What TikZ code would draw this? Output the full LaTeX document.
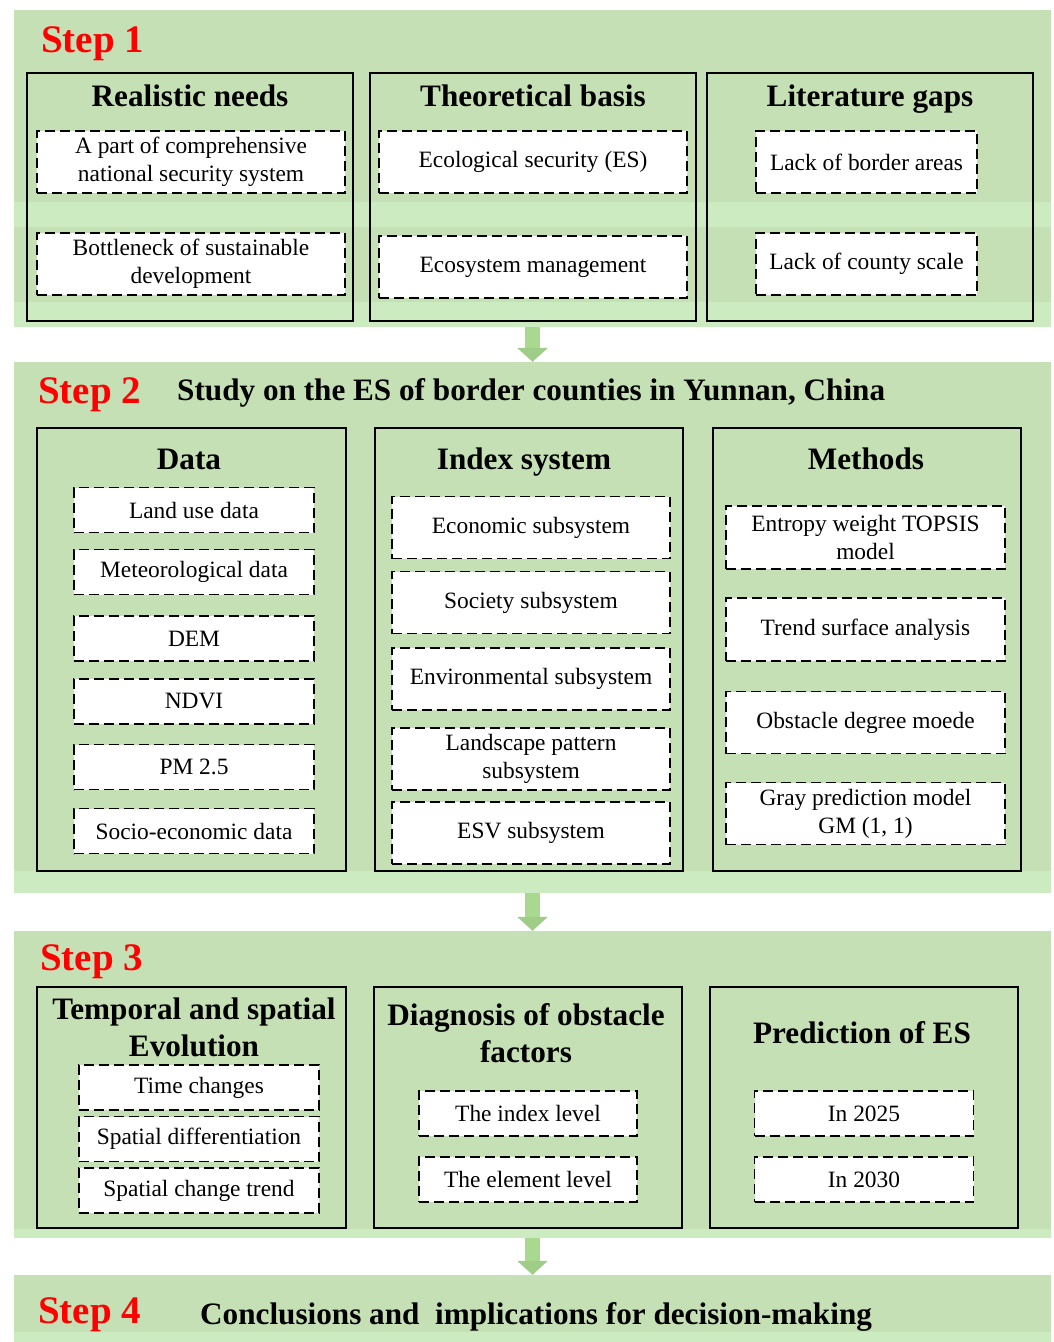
\documentclass[tikz,border=0pt]{standalone}
\usepackage{fontspec}
\setmainfont{Liberation Serif}
\usepackage{tikz}
\usetikzlibrary{arrows.meta}

\definecolor{bandgreen}{HTML}{C5E0B4}
\definecolor{stripgreen}{HTML}{CDEBC0}
\definecolor{arrowgreen}{HTML}{A9D98E}
\definecolor{headgreen}{HTML}{9FCC86}

\tikzset{
	band/.style={fill=bandgreen, minimum width=1037pt, inner sep=0pt},
	strip/.style={fill=stripgreen},
	panel/.style={draw, line width=1.8pt, inner sep=0pt},
	item/.style={draw, fill=white, line width=1.6pt, dash pattern=on 10pt off 5pt, align=center, inner sep=0pt, font=\fontsize{23.4}{28}\selectfont},
	heading/.style={font=\bfseries\fontsize{31.2}{37}\selectfont, align=center, inner sep=0pt},
	steplabel/.style={text=red, font=\bfseries\fontsize{39}{44}\selectfont, anchor=base west, inner sep=0pt},
	flow/.style={draw=arrowgreen, line width=15pt, -{Triangle[length=14pt, width=30pt, color=headgreen]}}
}

\begin{document}
\begin{tikzpicture}[x=1pt, y=-1pt]
	\useasboundingbox (0,0) rectangle (1054,1342);

	% bands
	\node[band, minimum height=317pt] (s1) at (532.5,168.5) {};
	\node[band, minimum height=531pt] (s2) at (532.5,627.5) {};
	\node[band, minimum height=307pt] (s3) at (532.5,1084.5) {};
	\node[band, minimum height=67pt] (s4) at (532.5,1308.5) {};
	\fill[strip] (14,202) rectangle (1051,227);
	\fill[strip] (14,302) rectangle (1051,327);
	\fill[strip] (14,871) rectangle (1051,893);
	\fill[strip] (14,1229) rectangle (1051,1238);
	\fill[strip] (14,1332) rectangle (1051,1342);

	\draw[flow] (s1.south) -- (s2.north);
	\draw[flow] (s2.south) -- (s3.north);
	\draw[flow] (s3.south) -- (s4.north);

	% step 1
	\node[steplabel] (step1) at (41,52) {Step 1};
	\node[panel, minimum width=326pt, minimum height=248pt] (needs) at (190,197) {};
	\node[panel, minimum width=326pt, minimum height=248pt] (basis) at (533,197) {};
	\node[panel, minimum width=326pt, minimum height=248pt] (gaps) at (870,197) {};
	\node[heading, anchor=base] (needst) at (190,106) {Realistic needs};
	\node[heading, anchor=base] (basist) at (533,106) {Theoretical basis};
	\node[heading, anchor=base] (gapst) at (870,106) {Literature gaps};
	\node[item, minimum width=308pt, minimum height=62pt] (needsa) at (191,162) {A part of comprehensive\\national security system};
	\node[item, minimum width=308pt, minimum height=62pt] (needsb) at (191,264) {Bottleneck of sustainable\\development};
	\node[item, minimum width=308pt, minimum height=62pt] (basisa) at (533,162) {Ecological security (ES)};
	\node[item, minimum width=308pt, minimum height=62pt] (basisb) at (533,267) {Ecosystem management};
	\node[item, minimum width=221pt, minimum height=62pt] (gapsa) at (866.5,162) {Lack of border areas};
	\node[item, minimum width=221pt, minimum height=62pt] (gapsb) at (866.5,264) {Lack of county scale};

	% step 2
	\node[steplabel] (step2) at (38,403) {Step 2};
	\node[heading, anchor=base west] (study) at (177,400) {Study on the ES of border counties in Yunnan, China};
	\node[panel, minimum width=309pt, minimum height=443pt] (data) at (191.5,649.5) {};
	\node[panel, minimum width=308pt, minimum height=443pt] (index) at (529,649.5) {};
	\node[panel, minimum width=308pt, minimum height=443pt] (methods) at (867,649.5) {};
	\node[heading, anchor=base] (datat) at (189,469) {Data};
	\node[heading, anchor=base] (indext) at (524,469) {Index system};
	\node[heading, anchor=base] (methodst) at (866,469) {Methods};
	\node[item, minimum width=240pt, minimum height=45pt] (landuse) at (194,510) {Land use data};
	\node[item, minimum width=240pt, minimum height=45pt] (meteo) at (194,572) {Meteorological data};
	\node[item, minimum width=240pt, minimum height=45pt] (dem) at (194,638.5) {DEM};
	\node[item, minimum width=240pt, minimum height=45pt] (ndvi) at (194,701.5) {NDVI};
	\node[item, minimum width=240pt, minimum height=45pt] (pm) at (194,767) {PM 2.5};
	\node[item, minimum width=240pt, minimum height=45pt] (socio) at (194,831) {Socio-economic data};
	\node[item, minimum width=278pt, minimum height=62pt] (econ) at (531,527.5) {Economic subsystem};
	\node[item, minimum width=278pt, minimum height=62pt] (soc) at (531,602.5) {Society subsystem};
	\node[item, minimum width=278pt, minimum height=62pt] (env) at (531,679) {Environmental subsystem};
	\node[item, minimum width=278pt, minimum height=62pt] (land) at (531,759) {Landscape pattern\\subsystem};
	\node[item, minimum width=278pt, minimum height=62pt] (esv) at (531,833) {ESV subsystem};
	\node[item, minimum width=279pt, minimum height=63pt] (topsis) at (865.5,537.5) {Entropy weight TOPSIS\\model};
	\node[item, minimum width=279pt, minimum height=63pt] (trend) at (865.5,629.5) {Trend surface analysis};
	\node[item, minimum width=279pt, minimum height=62pt] (obst) at (865.5,722.5) {Obstacle degree moede};
	\node[item, minimum width=279pt, minimum height=62pt] (gray) at (865.5,813.5) {Gray prediction model\\GM (1, 1)};

	% step 3
	\node[steplabel] (step3) at (40,970) {Step 3};
	\node[panel, minimum width=309pt, minimum height=241pt] (evol) at (191.5,1107.5) {};
	\node[panel, minimum width=308pt, minimum height=241pt] (diag) at (528,1107.5) {};
	\node[panel, minimum width=308pt, minimum height=241pt] (pred) at (864,1107.5) {};
	\node[heading] (evolt) at (194,1027) {Temporal and spatial\\Evolution};
	\node[heading] (diagt) at (526,1033.5) {Diagnosis of obstacle\\factors};
	\node[heading, anchor=base] (predt) at (862,1043) {Prediction of ES};
	\node[item, minimum width=240pt, minimum height=45pt] (time) at (199,1087.5) {Time changes};
	\node[item, minimum width=240pt, minimum height=45pt] (diff) at (199,1139) {Spatial differentiation};
	\node[item, minimum width=240pt, minimum height=45pt] (ctrend) at (199,1190.5) {Spatial change trend};
	\node[item, minimum width=218pt, minimum height=45pt] (indexl) at (528,1113.5) {The index level};
	\node[item, minimum width=218pt, minimum height=45pt] (elem) at (528,1179.5) {The element level};
	\node[item, minimum width=219pt, minimum height=45pt] (y2025) at (864,1113.5) {In 2025};
	\node[item, minimum width=219pt, minimum height=45pt] (y2030) at (864,1179.5) {In 2030};

	% step 4
	\node[steplabel] (step4) at (38,1323) {Step 4};
	\node[heading, anchor=base west] (concl) at (200,1324) {Conclusions and\ \ implications for decision-making};
\end{tikzpicture}
\end{document}
